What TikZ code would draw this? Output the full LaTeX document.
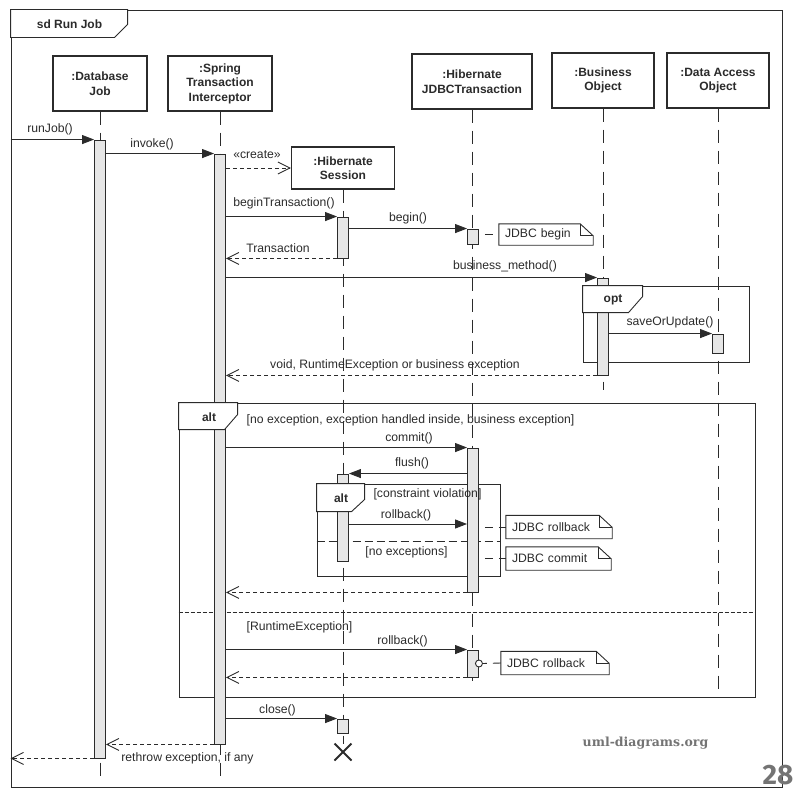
\documentclass[tikz,border=0pt]{standalone}
\usepackage{fontspec}
\setmainfont{Liberation Sans}
\newfontfamily\markfont{DejaVu Serif}
\newfontfamily\pagefont{Fira Sans}
\usetikzlibrary{arrows.meta,shapes.misc}
\definecolor{seqline}{HTML}{2B2B2B}
\definecolor{actfill}{HTML}{E6E6E6}
\definecolor{markgray}{HTML}{747474}

\begin{document}
\begin{tikzpicture}[x=1pt, y=-1pt,
  head/.style={draw=seqline, line width=1.2pt, fill=white, align=center, inner sep=0pt, minimum height=55pt, font=\fontsize{12}{14.5}\selectfont\bfseries},
  act/.style={draw=seqline, fill=actfill, line width=0.9pt, minimum width=11pt, inner sep=0pt},
  life/.style={draw=seqline, line width=0.9pt, dash pattern=on 13pt off 8pt},
  msg/.style={draw=seqline, line width=0.9pt, -{Triangle[length=12pt,width=9pt]}},
  ret/.style={draw=seqline, line width=0.9pt, dash pattern=on 4pt off 3pt, -{Straight Barb[length=12pt,width=12pt]}},
  tab/.style={draw=seqline, line width=0.9pt, inner sep=0pt},
  fragname/.style={font=\fontsize{12}{14}\selectfont\bfseries},
  lbl/.style={font=\fontsize{12.2}{14}\selectfont, inner sep=0pt},
  notebox/.style={inner xsep=6pt, inner ysep=0pt, minimum height=23pt, align=left, font=\fontsize{12.2}{14}\selectfont,
    append after command={\pgfextra{
      \draw[seqline, line width=0.9pt] (\tikzlastnode.north west) -- ([xshift=-13pt]\tikzlastnode.north east)
        -- ([yshift=-12pt]\tikzlastnode.north east) -- (\tikzlastnode.south east) -- (\tikzlastnode.south west) -- cycle;
      \draw[seqline, line width=0.9pt] ([xshift=-13pt]\tikzlastnode.north east)
        -- ([xshift=-13pt,yshift=-12pt]\tikzlastnode.north east) -- ([yshift=-12pt]\tikzlastnode.north east);
    }}},
  notelink/.style={draw=seqline, line width=0.9pt, dash pattern=on 8pt off 6pt, dash phase=8pt},
  every node/.style={text=seqline}
]
\useasboundingbox (0,0) rectangle (794,800);

% Frames
\node[tab, minimum width=771pt, minimum height=777pt] (sd) at (396.5,398.5) {};
\node[tab, minimum width=166pt, minimum height=76pt] (opt) at (666,324) {};
\node[tab, minimum width=576pt, minimum height=294pt] (altOut) at (467,550) {};
\draw[tab, dash pattern=on 4pt off 2pt] ([yshift=-210pt]altOut.north west) -- ([yshift=-210pt]altOut.north east);
\node[tab, minimum width=183pt, minimum height=92pt] (altIn) at (408.5,530) {};
\draw[tab, dash pattern=on 8pt off 4pt] ([yshift=-58pt]altIn.north west) -- ([yshift=-58pt]altIn.north east);

% Lifelines
\node[head, minimum width=94pt] (dbH) at (100,83.5) {:Database\\Job};
\node[head, minimum width=104pt] (sprH) at (220,83.5) {:Spring\\Transaction\\Interceptor};
\node[head, minimum width=120pt] (jtH) at (472,81.5) {:Hibernate\\JDBCTransaction};
\node[head, minimum width=102pt] (boH) at (603,80.5) {:Business\\Object};
\node[head, minimum width=102pt] (daoH) at (718,80.5) {:Data Access\\Object};
\node[head, minimum width=103pt, minimum height=42pt] (sesH) at (343,168) {:Hibernate\\Session};
\node[cross out, draw=seqline, line width=2pt, minimum size=15pt, inner sep=0pt] (sesX) at (343,752) {};

\draw[life] (dbH.south) -- ++(0,667);
\draw[life] (sprH.south) -- ++(0,667);
\draw[life] (sesH.south) -- (sesX.north);
\draw[life] (jtH.south) -- ++(0,571);
\draw[life] (boH.south) -- ++(0,281);
\draw[life] (daoH.south) -- ++(0,582);

% Activations
\node[act, minimum height=618pt] (dbA) at (100,449) {};
\node[act, minimum height=590pt] (sprA) at (220,449) {};
\node[act, minimum height=41pt] (ses1) at (343,237.5) {};
\node[act, minimum height=15pt] (jt1) at (473,236.5) {};
\node[act, minimum height=97pt] (boA) at (603,326.5) {};
\node[act, minimum height=19pt] (daoA) at (718,343.5) {};
\node[act, minimum height=144pt] (jt2) at (473,520) {};
\node[act, minimum height=87pt] (ses2) at (343,517.5) {};
\node[act, minimum height=27pt] (jt3) at (473,663.5) {};
\node[act, minimum height=14pt] (ses3) at (343,726) {};

% Frame tabs
\draw[tab, fill=white] (sd.north west) -- ++(117,0) -- ++(0,15) -- ++(-13,13) -- ++(-104,0) -- cycle;
\node[fragname] (sdName) at (69.5,24) {sd Run Job};
\draw[tab, fill=white] (opt.north west) -- ++(60,0) -- ++(0,11) -- ++(-14,16) -- ++(-46,0) -- cycle;
\node[fragname] (optName) at (613,300) {opt};
\draw[tab, fill=white] (altOut.north west) -- ++(59,0) -- ++(0,12) -- ++(-13,15) -- ++(-46,0) -- cycle;
\node[fragname] (altOutName) at (209,417) {alt};
\draw[tab, fill=white] (altIn.north west) -- ++(48,0) -- ++(0,16) -- ++(-13,12) -- ++(-35,0) -- cycle;
\node[fragname] (altInName) at (341,498) {alt};

% Guards
\node[lbl] (g1) at (410.5,420) {[no exception, exception handled inside, business exception]};
\node[lbl] (g2) at (427.5,494) {[constraint violation]};
\node[lbl] (g3) at (406.5,552) {[no exceptions]};
\node[lbl] (g4) at (299.5,627) {[RuntimeException]};

% Messages
\coordinate (rbIn) at (0,524);
\draw[msg] (sd.west |- dbA.north) -- (dbA.north west);
\draw[msg] (dbA.east |- sprA.north) -- (sprA.north west);
\draw[ret] (sprA.east |- sesH.west) -- (sesH.west);
\draw[msg] (sprA.east |- ses1.north) -- (ses1.north west);
\draw[msg] (ses1.east |- jt1.north) -- (jt1.north west);
\draw[ret] (ses1.south west) -- (sprA.east |- ses1.south);
\draw[msg] (sprA.east |- boA.north) -- (boA.north west);
\draw[msg] (boA.east |- daoA.north) -- (daoA.north west);
\draw[ret] (boA.south west) -- (sprA.east |- boA.south);
\draw[msg] (sprA.east |- jt2.north) -- (jt2.north west);
\draw[msg] (jt2.west |- ses2.north) -- (ses2.north east);
\draw[msg] (ses2.east |- rbIn) -- (jt2.west |- rbIn);
\draw[ret] (jt2.south west) -- (sprA.east |- jt2.south);
\draw[msg] (sprA.east |- jt3.north) -- (jt3.north west);
\draw[ret] (jt3.south west) -- (sprA.east |- jt3.south);
\draw[msg] (sprA.east |- ses3.north) -- (ses3.north west);
\draw[ret] (sprA.south west) -- (dbA.east |- sprA.south);
\draw[ret] (dbA.south west) -- (sd.west |- dbA.south);

\node[lbl] (tRun) at (50,129) {runJob()};
\node[lbl] (tInvoke) at (152,144) {invoke()};
\node[lbl] (tCreate) at (257,155) {«create»};
\node[lbl] (tBeginTx) at (284,203) {beginTransaction()};
\node[lbl] (tBegin) at (408,218) {begin()};
\node[lbl] (tTx) at (278,248) {Transaction};
\node[lbl] (tBiz) at (505,266) {business\_method()};
\node[lbl] (tSave) at (670,322) {saveOrUpdate()};
\node[lbl] (tVoid) at (395,365) {void, RuntimeException or business exception};
\node[lbl] (tCommit) at (409,438) {commit()};
\node[lbl] (tFlush) at (412,463) {flush()};
\node[lbl] (tRb1) at (406,515) {rollback()};
\node[lbl] (tRb2) at (402.5,641) {rollback()};
\node[lbl] (tClose) at (277.5,710) {close()};
\node[lbl] (tRethrow) at (187.5,758) {rethrow exception, if any};

% Notes
\node[notebox, text width=82pt, minimum height=21pt] (n1) at (546,234.5) {JDBC begin};
\draw[notelink] (jt1.east |- n1.west) -- (n1.west);
\node[notebox, text width=94pt] (n2) at (559,527) {JDBC rollback};
\draw[notelink] (jt2.east |- n2.west) -- (n2.west);
\node[notebox, text width=93pt] (n3) at (558.5,558.5) {JDBC commit};
\draw[notelink] (jt2.east |- n3.west) -- (n3.west);
\node[notebox, text width=96pt] (n4) at (555,663) {JDBC rollback};
\node[circle, draw=seqline, fill=white, line width=0.9pt, minimum size=7pt, inner sep=0pt] (jt3pin) at (jt3.east) {};
\draw[notelink, dash phase=4pt] (jt3pin.east) -- (n4.west);

% Watermark
\node[font=\markfont\bfseries\fontsize{12.5}{15}\selectfont, text=markgray] (wm) at (645.5,743) {uml-diagrams.org};
\node[font=\pagefont\bfseries\fontsize{28}{30}\selectfont, text=markgray] (pg) at (778,775) {28};

\end{tikzpicture}
\end{document}
